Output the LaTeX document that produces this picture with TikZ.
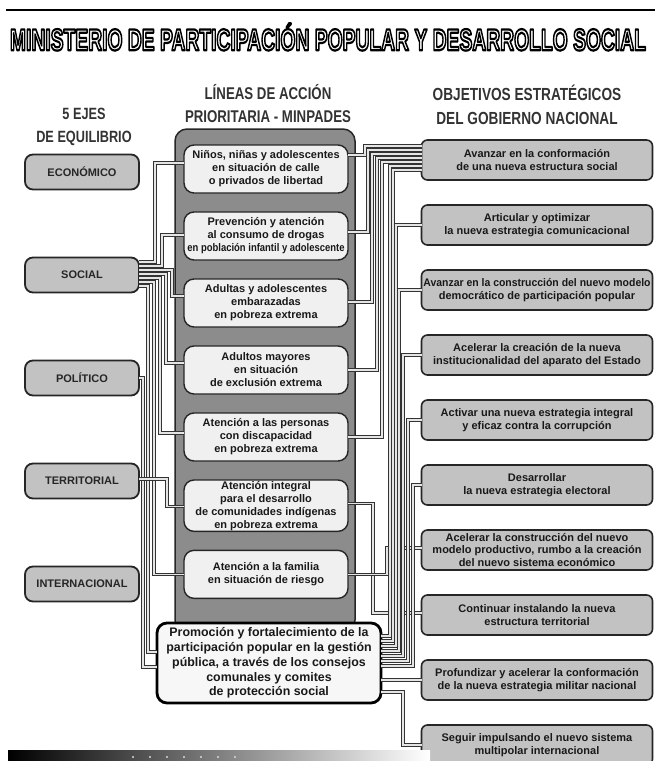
\documentclass[tikz,border=0pt]{standalone}
\usepackage{fontspec}
\setmainfont{Liberation Sans}
\newfontfamily\headfont{Liberation Sans}[FakeStretch=0.78]
\newfontfamily\narrowfont{Liberation Sans}[FakeStretch=0.86]
\newfontfamily\anchofont{Liberation Sans}[FakeStretch=0.95]
\usepackage{graphicx}
\usepackage{tikz}
\usetikzlibrary{positioning}
\newcommand\contorno[1]{\special{pdf:literal direct 2 Tr 2.2 w 1 j 0 G}#1\special{pdf:literal direct 0 Tr}}

\begin{document}
\begin{tikzpicture}[x=1pt, y=1pt, node distance=19pt, thick,
    eje/.style={rectangle, rounded corners=8pt, draw=black!85, fill=black!24, line width=1.8pt, outer sep=0pt,
      minimum width=114pt, minimum height=35pt, text=black!85, font=\bfseries\fontsize{11}{13}\selectfont},
    linea/.style={rectangle, rounded corners=10pt, draw=black!85, fill=black!6, line width=1.4pt, outer sep=0pt,
      minimum width=164pt, minimum height=48pt, inner sep=1pt, align=center, text=black!90,
      font=\bfseries\fontsize{11}{13}\selectfont},
    accion/.style={rectangle, rounded corners=10pt, draw=black, fill=black!3, line width=2.8pt, outer sep=0pt,
      minimum width=224pt, minimum height=80pt, inner sep=1pt, align=center, text=black!90,
      font=\bfseries\fontsize{12.4}{14.8}\selectfont},
    objetivo/.style={rectangle, rounded corners=6pt, draw=black!85, fill=black!24, line width=1.6pt, outer sep=0pt,
      minimum width=231pt, minimum height=40pt, inner sep=1pt, align=center, text=black!90,
      font=\bfseries\fontsize{11}{12.5}\selectfont},
    cabecera/.style={align=center, text=black!80, font=\headfont\bfseries\fontsize{16.3}{23}\selectfont},
    enlace/.style={draw=black!80, line width=0.9pt, double=black!10, double distance=1.5pt}]

    \useasboundingbox[fill=white] (0,0) rectangle (655,-761);

    % Title and headers
    \draw[line width=2.5pt] (6,-10) -- (655,-10);
    \node (titulo) at (328,-37) {\resizebox{636pt}{27pt}{\fontsize{30}{30}\bfseries\color{white}\contorno{MINISTERIO DE PARTICIPACIÓN POPULAR Y DESARROLLO SOCIAL}}};
    \node[cabecera] (ejes) at (84,-127) {5 EJES\\DE EQUILIBRIO};
    \node[cabecera, font=\headfont\bfseries\fontsize{17}{23}\selectfont] (lineas) at (268,-104) {LÍNEAS DE ACCIÓN\\PRIORITARIA - MINPADES};
    \node[cabecera, font=\headfont\bfseries\fontsize{17.5}{24}\selectfont] (objetivos) at (527,-105) {OBJETIVOS ESTRATÉGICOS\\DEL GOBIERNO NACIONAL};

    % Define axis nodes
    \node[eje] (eco) at (82,-172) {ECONÓMICO};
    \node[eje, below=68pt of eco] (soc) {SOCIAL};
    \node[eje, below=68pt of soc] (pol) {POLÍTICO};
    \node[eje, below=68pt of pol] (ter) {TERRITORIAL};
    \node[eje, below=68pt of ter] (int) {INTERNACIONAL};

    % Define action line nodes
    \draw[draw=black!85, fill=black!45, line width=1.5pt, rounded corners=12pt] (175,-129) rectangle (355,-632);
    \node[linea] (n1) at (266,-169) {Niños, niñas y adolescentes\\en situación de calle\\o privados de libertad};
    \node[linea, below=of n1] (n2) {Prevención y atención\\al consumo de drogas\\{\narrowfont en población infantil y adolescente}};
    \node[linea, below=of n2] (n3) {Adultas y adolescentes\\embarazadas\\en pobreza extrema};
    \node[linea, below=of n3] (n4) {Adultos mayores\\en situación\\de exclusión extrema};
    \node[linea, below=of n4] (n5) {Atención a las personas\\con discapacidad\\en pobreza extrema};
    \node[linea, below=of n5] (n6) {Atención integral\\para el desarrollo\\de comunidades indígenas\\en pobreza extrema};
    \node[linea, below=of n6] (n7) {Atención a la familia\\en situación de riesgo};
    \node[accion] (n8) at (269,-663) {Promoción y fortalecimiento de la\\participación popular en la gestión\\pública, a través de los consejos\\comunales y comites\\de protección social};

    % Define objective nodes
    \node[objetivo] (o1) at (537,-160) {Avanzar en la conformación\\de una nueva estructura social};
    \node[objetivo, below=25pt of o1] (o2) {Articular y optimizar\\la nueva estrategia comunicacional};
    \node[objetivo, below=25pt of o2] (o3) {{\anchofont Avanzar en la construcción del nuevo modelo}\\democrático de participación popular};
    \node[objetivo, below=25pt of o3] (o4) {Acelerar la creación de la nueva\\institucionalidad del aparato del Estado};
    \node[objetivo, below=25pt of o4] (o5) {Activar una nueva estrategia integral\\y eficaz contra la corrupción};
    \node[objetivo, below=25pt of o5] (o6) {Desarrollar\\la nueva estrategia electoral};
    \node[objetivo, below=25pt of o6] (o7) {Acelerar la construcción del nuevo\\modelo productivo, rumbo a la creación\\del nuevo sistema económico};
    \node[objetivo, below=25pt of o7] (o8) {Continuar instalando la nueva\\estructura territorial};
    \node[objetivo, below=25pt of o8] (o9) {Profundizar y acelerar la conformación\\de la nueva estrategia militar nacional};
    \node[objetivo, below=25pt of o9] (o10) {Seguir impulsando el nuevo sistema\\multipolar internacional};

    % Links from axes to action lines
    \draw[enlace] ([yshift=13pt]soc.east) -- ++(16,0) |- ([yshift=6pt]n1.west);
    \draw[enlace] ([yshift=9pt]soc.east) -- ++(23,0) |- ([yshift=1pt]n2.west);
    \draw[enlace] ([yshift=5pt]soc.east) -- ++(33,0) |- ([yshift=7pt]n3.west);
    \draw[enlace] ([yshift=1pt]soc.east) -- ++(27,0) |- ([yshift=7pt]n4.west);
    \draw[enlace] ([yshift=-3pt]soc.east) -- ++(21,0) |- ([yshift=4pt]n5.west);
    \draw[enlace] ([yshift=-7pt]soc.east) -- ++(15,0) |- (n7.west);
    \draw[enlace] ([yshift=-11pt]soc.east) -- ++(9,0) |- ([yshift=11pt]n8.west);
    \draw[enlace] (pol.east) -- ++(4,0) |- ([yshift=-4pt]n8.west);
    \draw[enlace] ([yshift=2pt]ter.east) -- ++(28,0) |- ([yshift=-1pt]n6.west);

    % Links from action lines to objectives
    \draw[enlace] ([yshift=14pt]n1.east) -- ++(17,0) |- ([yshift=14pt]o1.west);
    \draw[enlace] ([yshift=4pt]n2.east) -- ++(20,0) |- ([yshift=10pt]o1.west);
    \draw[enlace] ([yshift=1pt]n3.east) -- ++(24,0) |- ([yshift=6pt]o1.west);
    \draw[enlace] (n4.east) -- ++(29,0) |- ([yshift=2pt]o1.west);
    \draw[enlace] (n5.east) -- ++(34,0) |- ([yshift=-2pt]o1.west);
    \draw[enlace] ([yshift=2pt]n6.east) -- ++(25,0) |- ([yshift=2pt]o8.west);
    \draw[enlace] (n7.east) -- ++(39,0) |- ([yshift=2pt]o7.west);
    \draw[enlace] ([yshift=27pt]n8.east) -- ++(9,0) |- ([yshift=-6pt]o1.west);
    \draw[enlace] ([yshift=22pt]n8.east) -- ++(12,0) |- ([yshift=-10pt]o1.west);
    \draw[enlace] ([yshift=17pt]n8.east) -- ++(15,0) |- (o2.west);
    \draw[enlace] ([yshift=12pt]n8.east) -- ++(18,0) |- (o3.west);
    \draw[enlace] ([yshift=7pt]n8.east) -- ++(22,0) |- (o4.west);
    \draw[enlace] ([yshift=2pt]n8.east) -- ++(27,0) |- (o5.west);
    \draw[enlace] ([yshift=-3pt]n8.east) -- ++(32,0) |- (o6.west);
    \draw[enlace] (o9.west -| n8.east) -- (o9.west);
    \draw[enlace] ([yshift=-29pt]n8.east) -- ++(22,0) |- (o10.west);

    % Footer bar
    \shade[left color=black, right color=white] (8,-750) rectangle (430,-761);
    \foreach \x in {133,150,...,240}
        \fill[black!15] (\x,-757) circle (1.2);
\end{tikzpicture}
\end{document}
